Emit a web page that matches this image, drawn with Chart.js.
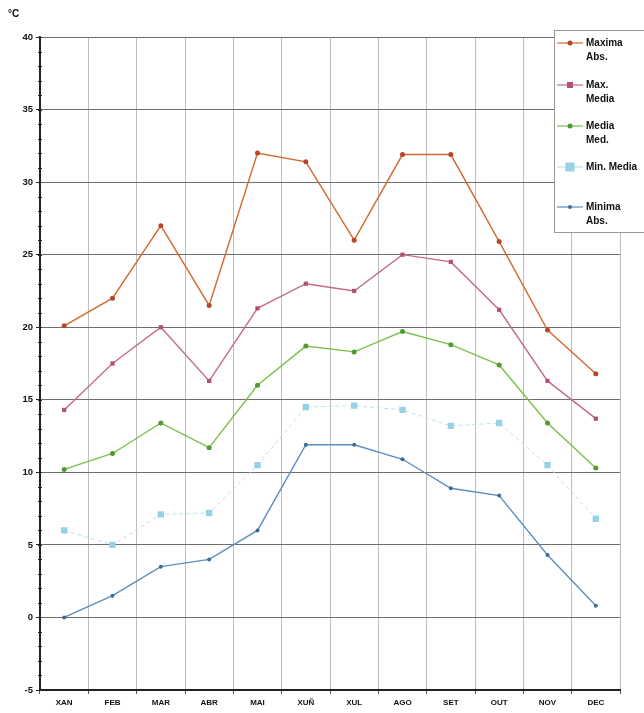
<!DOCTYPE html>
<html>
<head>
<meta charset="utf-8">
<script src="https://cdn.jsdelivr.net/npm/chart.js@4"></script>
<style>
  body { margin: 0; background: #fff; }
  canvas { display: block; }
</style>
</head>
<body>
<canvas id="myChart" width="644" height="713"></canvas>
<script>
const meses = ['XAN', 'FEB', 'MAR', 'ABR', 'MAI', 'XUÑ', 'XUL', 'AGO', 'SET', 'OUT', 'NOV', 'DEC'];
const maximaAbs = [20.1, 22.0, 27.0, 21.5, 32.0, 31.4, 26.0, 31.9, 31.9, 25.9, 19.8, 16.8];
const maxMedia = [14.3, 17.5, 20.0, 16.3, 21.3, 23.0, 22.5, 25.0, 24.5, 21.2, 16.3, 13.7];
const mediaMed = [10.2, 11.3, 13.4, 11.7, 16.0, 18.7, 18.3, 19.7, 18.8, 17.4, 13.4, 10.3];
const minMedia = [6.0, 5.0, 7.1, 7.2, 10.5, 14.5, 14.6, 14.3, 13.2, 13.4, 10.5, 6.8];
const minimaAbs = [0.0, 1.5, 3.5, 4.0, 6.0, 11.9, 11.9, 10.9, 8.9, 8.4, 4.3, 0.8];
const yTicks = [-5, 0, 5, 10, 15, 20, 25, 30, 35, 40];

const ctx = document.getElementById('myChart');
const fontFam = '"Liberation Sans", Arial, sans-serif';

// legend box drawn over the top right corner, like the original
const boxLegend = {
  id: 'boxLegend',
  afterDraw(chart) {
    const c = chart.ctx;
    c.save();
    c.fillStyle = '#fff';
    c.strokeStyle = '#999';
    c.lineWidth = 1;
    c.fillRect(554, 30, 100, 202);
    c.strokeRect(554.5, 30.5, 100, 202);
    const rows = [43, 85, 126, 167, 207];
    chart.data.datasets.forEach((ds, i) => {
      const y = rows[i];
      c.strokeStyle = ds.borderColor;
      c.lineWidth = 1.2;
      c.setLineDash([]);
      c.beginPath();
      c.moveTo(557, y);
      c.lineTo(583, y);
      c.stroke();
      c.fillStyle = ds.pointBackgroundColor;
      const r = ds.pointRadius;
      if (ds.pointStyle === 'rect') {
        c.fillRect(570 - r, y - r, r * 2, r * 2);
      } else {
        c.beginPath();
        c.arc(570, y, r, 0, Math.PI * 2);
        c.fill();
      }
      c.fillStyle = '#111';
      c.font = 'bold 10px ' + fontFam;
      c.textBaseline = 'middle';
      ds.legendText.forEach((t, k) => c.fillText(t, 586, y + k * 14));
    });
    // unit label
    c.fillStyle = '#111';
    c.font = 'bold 10px ' + fontFam;
    c.fillText('°C', 8, 14);
    // minor ticks on the y axis
    const ys = chart.scales.y;
    c.strokeStyle = '#222';
    c.lineWidth = 1;
    for (let v = -5; v <= 40; v++) {
      const py = Math.round(ys.getPixelForValue(v)) + 0.5;
      c.beginPath();
      c.moveTo(ys.right - 2, py);
      c.lineTo(ys.right + 2, py);
      c.stroke();
    }
    c.restore();
  },
};

new Chart(ctx, {
  type: 'line',
  data: {
    labels: meses,
    datasets: [
      {
        label: 'Maxima Abs.',
        legendText: ['Maxima', 'Abs.'],
        data: maximaAbs,
        borderWidth: 1.4,
        borderColor: '#d2692e',
        pointBackgroundColor: '#b5462a',
        pointBorderWidth: 0,
        pointRadius: 2.5,
        pointStyle: 'circle',
      },
      {
        label: 'Max. Media',
        legendText: ['Max.', 'Media'],
        data: maxMedia,
        borderWidth: 1.4,
        borderColor: '#c46a8c',
        pointBackgroundColor: '#b24f7a',
        pointBorderWidth: 0,
        pointRadius: 3,
        pointStyle: 'rect',
      },
      {
        label: 'Media Med.',
        legendText: ['Media', 'Med.'],
        data: mediaMed,
        borderWidth: 1.4,
        borderColor: '#7cc04a',
        pointBackgroundColor: '#4f9a2e',
        pointBorderWidth: 0,
        pointRadius: 2.5,
        pointStyle: 'circle',
      },
      {
        label: 'Min. Media',
        legendText: ['Min. Media'],
        data: minMedia,
        borderWidth: 1,
        borderColor: '#b8e2ee',
        borderDash: [4, 3],
        pointBackgroundColor: '#96d2e4',
        pointBorderWidth: 0,
        pointRadius: 4.5,
        pointStyle: 'rect',
      },
      {
        label: 'Minima Abs.',
        legendText: ['Minima', 'Abs.'],
        data: minimaAbs,
        borderWidth: 1.4,
        borderColor: '#5b8fc0',
        pointBackgroundColor: '#3e6a98',
        pointBorderWidth: 0,
        pointRadius: 2,
        pointStyle: 'circle',
      },
    ],
  },
  options: {
    responsive: false,
    animation: false,
    devicePixelRatio: 1,
    layout: { padding: { left: 0, top: 37, right: 24, bottom: 0 } },
    plugins: {
      legend: { display: false },
      tooltip: { enabled: false },
    },
    scales: {
      x: {
        offset: true,
        afterFit: (scale) => { scale.height = 23; },
        grid: {
          offset: true,
          color: '#bdbdbd',
          tickColor: '#555',
          tickLength: 4,
        },
        border: { color: '#222', width: 2 },
        ticks: {
          color: '#111',
          padding: 4,
          maxRotation: 0,
          font: { family: fontFam, size: 8, weight: 'bold' },
        },
      },
      y: {
        min: -5,
        max: 40,
        afterFit: (scale) => { scale.width = 40; },
        afterBuildTicks: (scale) => { scale.ticks = yTicks.map((v) => ({ value: v })); },
        grid: {
          color: '#6e6e6e',
          tickColor: '#222',
          tickLength: 4,
        },
        border: { color: '#222', width: 2 },
        ticks: {
          color: '#111',
          padding: 3,
          font: { family: fontFam, size: 9.5, weight: 'bold' },
        },
      },
    },
  },
  plugins: [boxLegend],
});
</script>
</body>
</html>
